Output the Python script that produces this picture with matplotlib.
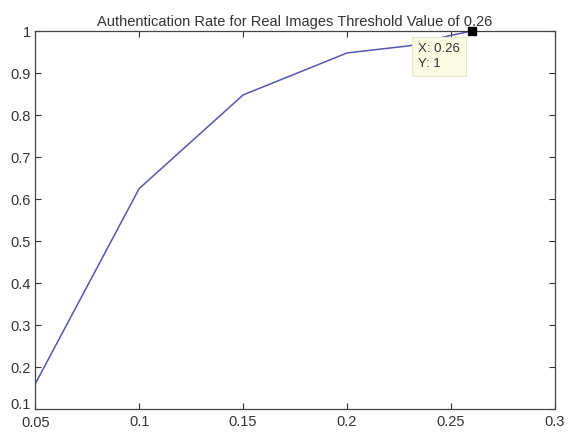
import matplotlib
matplotlib.use("Agg")
import matplotlib.pyplot as plt
import matplotlib.transforms as mtransforms

# threshold vs authentication rate
thresholds = [0.05, 0.10, 0.15, 0.20, 0.23, 0.25, 0.26]
auth_rate = [0.16, 0.625, 0.848, 0.948, 0.965, 0.99, 1.0]

tip_x = 0.26
tip_y = 1

xticks = [0.05, 0.1, 0.15, 0.2, 0.25, 0.3]
xtick_labels = ["0.05", "0.1", "0.15", "0.2", "0.25", "0.3"]
yticks = [0.1, 0.2, 0.3, 0.4, 0.5, 0.6, 0.7, 0.8, 0.9, 1.0]
ytick_labels = ["0.1", "0.2", "0.3", "0.4", "0.5", "0.6", "0.7", "0.8", "0.9", "1"]

plt.rcParams['font.family'] = ['Liberation Sans', 'DejaVu Sans']

fig = plt.figure(figsize=(5.68, 4.32), dpi=100)
ax = fig.add_axes([0.062, 0.053, 0.915, 0.875])

ax.plot(thresholds, auth_rate, color='#5656b0', linewidth=1.1)

# data tip
ax.plot([tip_x], [tip_y], marker='s', color='black', markersize=6, clip_on=False, zorder=5)
ax.annotate("X: 0.26\nY: 1", xy=(tip_x, tip_y), xytext=(-54, -12),
            textcoords='offset pixels', ha='left', va='top', fontsize=9.5,
            color='#333333', linespacing=1.35,
            bbox=dict(boxstyle='square,pad=0.45', facecolor='#fbfbe3', edgecolor='#e6e6cc', linewidth=0.8))

ax.set_xlim(0.05, 0.3)
ax.set_ylim(0.1, 1.0)
ax.set_xticks(xticks)
ax.set_xticklabels(xtick_labels)
ax.set_yticks(yticks)
ax.set_yticklabels(ytick_labels)
ax.tick_params(direction='in', top=True, right=True, length=4, width=0.8,
               labelsize=10.5, colors='#333333')
ax.tick_params(axis='x', pad=4)
ax.tick_params(axis='y', pad=3)

# nudge the two corner labels apart a little, like the original
lbl = ax.get_yticklabels()[0]
lbl.set_transform(lbl.get_transform() + mtransforms.ScaledTranslation(0, 4 / 72, fig.dpi_scale_trans))
lbl = ax.get_xticklabels()[0]
lbl.set_transform(lbl.get_transform() + mtransforms.ScaledTranslation(0, -1 / 72, fig.dpi_scale_trans))

for s in ax.spines.values():
    s.set_color('#444444')
    s.set_linewidth(0.9)

ax.set_title("Authentication Rate for Real Images Threshold Value of 0.26",
             fontsize=10.5, color='#333333', pad=4)

fig.savefig("out.png", dpi=100)
